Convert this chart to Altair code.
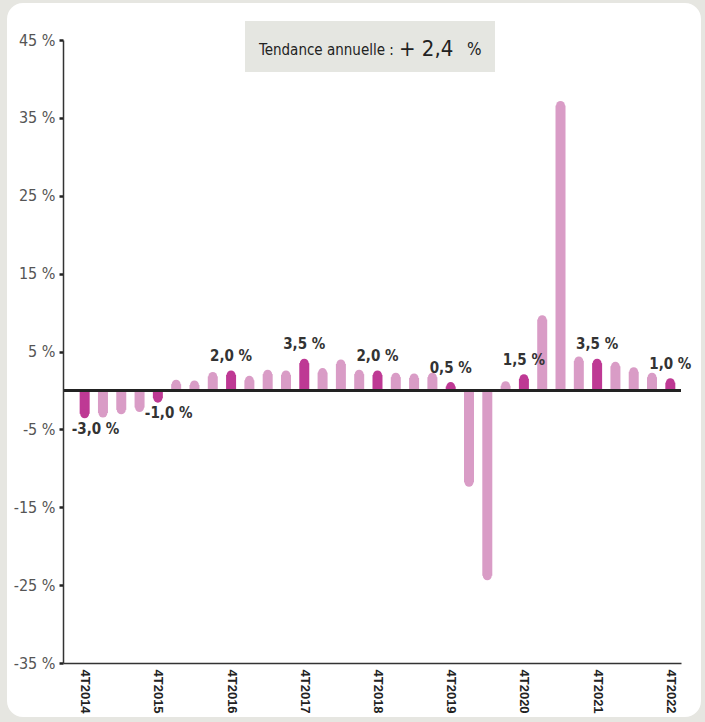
import altair as alt
import pandas as pd

# Quarterly year-on-year change, 4T2014 -> 4T2022
quarters = [
    "4T2014", "1T2015", "2T2015", "3T2015", "4T2015",
    "1T2016", "2T2016", "3T2016", "4T2016",
    "1T2017", "2T2017", "3T2017", "4T2017",
    "1T2018", "2T2018", "3T2018", "4T2018",
    "1T2019", "2T2019", "3T2019", "4T2019",
    "1T2020", "2T2020", "3T2020", "4T2020",
    "1T2021", "2T2021", "3T2021", "4T2021",
    "1T2022", "2T2022", "3T2022", "4T2022",
]
values = [
    -3.0, -2.9, -2.5, -2.2, -1.0,
    0.8, 0.7, 1.8, 2.0,
    1.3, 2.1, 2.0, 3.5,
    2.3, 3.4, 2.1, 2.0,
    1.7, 1.6, 1.7, 0.5,
    -11.8, -23.8, 0.6, 1.5,
    9.1, 36.6, 3.8, 3.5,
    3.1, 2.4, 1.7, 1.0,
]
y_ticks = [-35, -25, -15, -5, 5, 15, 25, 35, 45]
trend_text = "Tendance annuelle :"
trend_value = "+ 2,4"
trend_unit = "%"

LIGHT = "#d99cc6"
DARK = "#be3994"
NARROW = "DejaVu Sans Condensed, Liberation Sans, sans-serif"

df = pd.DataFrame({"idx": list(range(len(quarters))), "quarter": quarters, "value": values})
df["kind"] = ["dark" if q.startswith("4T") else "light" for q in quarters]
df["label"] = [
    (f"{v:.1f}".replace(".", ",") + " %") if k == "dark" else ""
    for v, k in zip(df["value"], df["kind"])
]

W, H = 618, 623

label_lookup = "[" + ",".join(f"'{q}'" for q in quarters) + "][datum.value]"
x_enc = alt.X(
    "idx:Q",
    scale=alt.Scale(domain=[-0.91, 32.31], nice=False, zero=False),
    axis=alt.Axis(
        values=[i for i, q in enumerate(quarters) if q.startswith("4T")],
        labelExpr=label_lookup,
        labelAngle=90,
        labelFont="Liberation Sans",
        labelFontWeight="bold",
        labelFontSize=13,
        labelColor="#222222",
        labelPadding=6,
        ticks=False,
        grid=False,
        domainColor="#333333",
        domainWidth=1.5,
        title=None,
        zindex=1,
    ),
)
y_scale = alt.Scale(domain=[-35, 45], nice=False, zero=False)
y_enc = alt.Y(
    "value:Q",
    scale=y_scale,
    axis=alt.Axis(
        values=y_ticks,
        labelExpr="datum.value + ' %'",
        labelFont=NARROW,
        labelFontSize=16,
        labelColor="#555555",
        labelPadding=4,
        tickSize=4,
        tickWidth=2.5,
        tickColor="#222222",
        grid=False,
        domainColor="#333333",
        domainWidth=1.5,
        title=None,
        zindex=1,
    ),
)
color_enc = alt.Color(
    "kind:N", scale=alt.Scale(domain=["light", "dark"], range=[LIGHT, DARK]), legend=None
)

one = pd.DataFrame({"a": [0]})

# white rounded panel behind the plot
panel = alt.Chart(one).mark_rect(color="white", cornerRadius=16).encode(
    x=alt.value(-56), x2=alt.value(638), y=alt.value(-37), y2=alt.value(677)
)

base = alt.Chart(df)

bars = base.mark_bar(width=10).encode(
    x=x_enc, y=y_enc, y2=alt.datum(0), color=color_enc
)
caps = base.mark_circle(size=79, opacity=1).encode(
    x="idx:Q", y="value:Q", color=color_enc
)
zero_line = alt.Chart(one).mark_rule(color="#222222", strokeWidth=3).encode(
    y=alt.datum(0)
)

pos_labels = base.transform_filter(
    "datum.label != '' && datum.value > 0"
).mark_text(
    font=NARROW, fontSize=15, fontWeight="bold", color="#333333",
    baseline="bottom", dy=-11,
).encode(x="idx:Q", y="value:Q", text="label:N")

neg_labels = base.transform_filter(
    "datum.label != '' && datum.value < 0"
).mark_text(
    font=NARROW, fontSize=15, fontWeight="bold", color="#333333",
    baseline="top", align="left", dx=-13, dy=8,
).encode(x="idx:Q", y="value:Q", text="label:N")

# annual trend box
trend_box = alt.Chart(one).mark_rect(color="#e5e6e1").encode(
    x=alt.value(182), x2=alt.value(432), y=alt.value(-19), y2=alt.value(32)
)
trend_a = alt.Chart(one).mark_text(
    text=trend_text, font=NARROW, fontSize=15, color="#222222",
    align="left", baseline="alphabetic",
).encode(x=alt.value(196), y=alt.value(15))
trend_b = alt.Chart(one).mark_text(
    text=trend_value, font=NARROW, fontSize=22, color="#222222",
    align="left", baseline="alphabetic",
).encode(x=alt.value(336), y=alt.value(16))
trend_c = alt.Chart(one).mark_text(
    text=trend_unit, font=NARROW, fontSize=17, color="#222222",
    align="left", baseline="alphabetic",
).encode(x=alt.value(404), y=alt.value(15))

chart = alt.layer(
    panel, bars, caps, zero_line, pos_labels, neg_labels, trend_box, trend_a, trend_b, trend_c
).properties(
    width=W,
    height=H,
    autosize=alt.AutoSizeParams(type="none"),
    padding={"left": 63, "top": 40, "right": 24, "bottom": 59},
    background="#e6e6e1",
).configure_view(stroke=None)

chart.save("out.html", embed_options={"renderer": "svg", "actions": False})
